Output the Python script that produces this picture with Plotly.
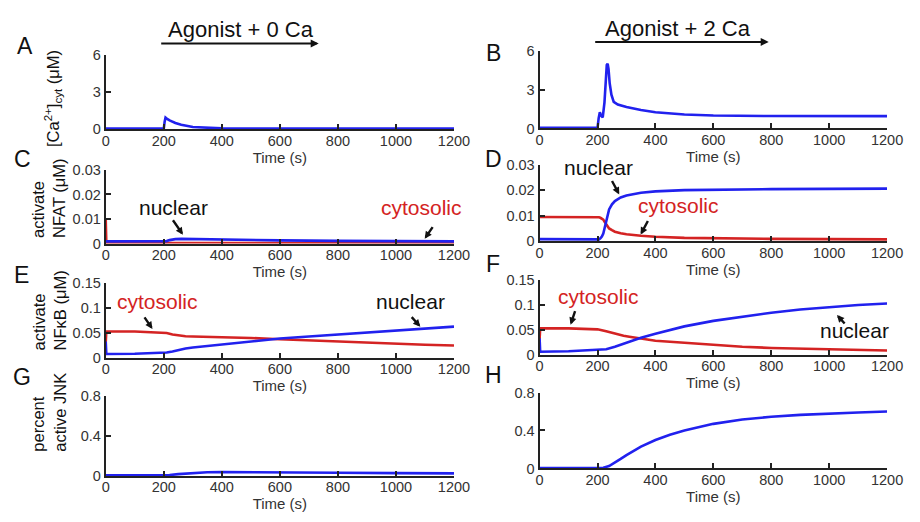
import plotly.graph_objects as go

# ---------------- data ----------------
tA = [0, 200, 203, 206, 210, 220, 240, 260, 300, 350, 400, 500, 1200]
caA = [0.05, 0.05, 0.6, 0.93, 0.85, 0.7, 0.5, 0.35, 0.18, 0.09, 0.06, 0.05, 0.05]

tB = [0, 200, 204, 208, 212, 218, 224, 228, 232, 235, 238, 242, 248, 256, 270, 300, 350, 400, 500, 600, 800, 1200]
caB = [0.05, 0.05, 0.8, 1.25, 1.0, 0.85, 2.0, 3.8, 4.9, 5.0, 4.6, 3.5, 2.6, 2.05, 1.85, 1.65, 1.42, 1.25, 1.08, 1.0, 0.96, 0.95]

tC = [0, 2, 100, 200, 210, 220, 230, 240, 260, 300, 400, 600, 800, 1000, 1200]
nucC = [0.0009, 0.0009, 0.0009, 0.0009, 0.001, 0.0014, 0.0017, 0.0018, 0.0019, 0.0018, 0.0016, 0.0013, 0.0011, 0.001, 0.0009]
cytC = [0.0097, 0.0002, 0.0002, 0.0002, 0.0002, 0.0002, 0.0002, 0.0002, 0.0002, 0.0002, 0.0002, 0.0002, 0.0002, 0.0002, 0.0002]

tD = [0, 100, 200, 205, 210, 215, 220, 225, 230, 235, 240, 250, 260, 280, 300, 350, 400, 500, 600, 800, 1000, 1200]
nucD = [0.0008, 0.0007, 0.0006, 0.0007, 0.0011, 0.0018, 0.003, 0.0055, 0.008, 0.0105, 0.0125, 0.0145, 0.0158, 0.0172, 0.018, 0.0191, 0.0196, 0.0201, 0.0203, 0.0205, 0.0206, 0.0207]
cytD = [0.0095, 0.0095, 0.0095, 0.0094, 0.0092, 0.0089, 0.0085, 0.0075, 0.0065, 0.0057, 0.005, 0.0043, 0.0037, 0.0031, 0.0027, 0.0021, 0.0017, 0.0013, 0.0011, 0.0009, 0.0008, 0.0007]

tE = [0, 2, 100, 200, 210, 230, 250, 275, 300, 350, 400, 500, 600, 700, 800, 900, 1000, 1100, 1200]
cytE = [0.032, 0.053, 0.053, 0.051, 0.05, 0.047, 0.045, 0.0435, 0.043, 0.0425, 0.042, 0.04, 0.0375, 0.035, 0.0325, 0.0305, 0.0285, 0.0265, 0.025]
nucE = [0.033, 0.008, 0.0085, 0.01, 0.011, 0.013, 0.016, 0.019, 0.021, 0.024, 0.027, 0.033, 0.039, 0.043, 0.047, 0.051, 0.055, 0.059, 0.063]

tF = [0, 2, 100, 200, 230, 260, 290, 310, 350, 400, 500, 600, 700, 800, 900, 1000, 1100, 1200]
nucF = [0.033, 0.006, 0.007, 0.009, 0.011, 0.016, 0.022, 0.026, 0.034, 0.042, 0.057, 0.068, 0.077, 0.0845, 0.091, 0.096, 0.1, 0.103]
cytF = [0.032, 0.053, 0.053, 0.051, 0.047, 0.042, 0.038, 0.036, 0.032, 0.028, 0.024, 0.0195, 0.016, 0.0136, 0.012, 0.0105, 0.0093, 0.0085]

tG = [0, 200, 220, 250, 300, 350, 400, 500, 600, 800, 1000, 1200]
jnkG = [0.005, 0.005, 0.008, 0.018, 0.03, 0.036, 0.038, 0.038, 0.036, 0.032, 0.028, 0.025]

tH = [0, 200, 220, 240, 260, 280, 300, 350, 400, 450, 500, 600, 700, 800, 900, 1000, 1100, 1200]
jnkH = [0.005, 0.005, 0.008, 0.025, 0.06, 0.1, 0.14, 0.23, 0.3, 0.355, 0.4, 0.47, 0.515, 0.545, 0.565, 0.58, 0.59, 0.6]

x_ticks = [0, 200, 400, 600, 800, 1000, 1200]
ca_ticks = [0, 3, 6]
nfat_ticks = [0, 0.01, 0.02, 0.03]
nfat_text = ["0", "0.01", "0.02", "0.03"]
nfkb_ticks = [0, 0.05, 0.1, 0.15]
nfkb_text = ["0", "0.05", "0.1", "0.15"]
jnk_ticks = [0, 0.4, 0.8]
jnk_text = ["0", "0.4", "0.8"]

# ---------------- styling ----------------
W, H = 920, 522
BLUE = "#2121ee"
RED = "#d42323"
INK = "#222222"
FONT = "Liberation Sans, Arial, sans-serif"


def px(x):
    return x / W


def py(y):
    return 1 - y / H


fig = go.Figure()


def line(x, y, color, k):
    fig.add_trace(go.Scatter(x=x, y=y, mode="lines", line=dict(color=color, width=2.6),
                             xaxis="x" if k == 1 else f"x{k}", yaxis="y" if k == 1 else f"y{k}",
                             showlegend=False, hoverinfo="skip"))


line(tA, caA, BLUE, 1)
line(tB, caB, BLUE, 2)
line(tC, cytC, RED, 3)
line(tC, nucC, BLUE, 3)
line(tD, cytD, RED, 4)
line(tD, nucD, BLUE, 4)
line(tE, cytE, RED, 5)
line(tE, nucE, BLUE, 5)
line(tF, cytF, RED, 6)
line(tF, nucF, BLUE, 6)
line(tG, jnkG, BLUE, 7)
line(tH, jnkH, BLUE, 8)

xL = [104, 460]
xR = [547.5, 902.7]
rows = {
    1: (xL, [48, 125], [0, 6], ca_ticks, [str(v) for v in ca_ticks]),
    2: (xR, [44, 124.3], [0, 6], ca_ticks, [str(v) for v in ca_ticks]),
    3: (xL, [167, 243], [0, 0.03], nfat_ticks, nfat_text),
    4: (xR, [162, 240.5], [0, 0.03], nfat_ticks, nfat_text),
    5: (xL, [284, 361], [0, 0.15], nfkb_ticks, nfkb_text),
    6: (xR, [280.7, 357.7], [0, 0.15], nfkb_ticks, nfkb_text),
    7: (xL, [400, 482.7], [0, 0.8], jnk_ticks, jnk_text),
    8: (xR, [396.7, 475], [0, 0.8], jnk_ticks, jnk_text),
}

tickfont = dict(family=FONT, size=14.5, color="#333")
titlefont = dict(family=FONT, size=15, color="#333")
layout_axes = {}
for k, (xd, yd, yr, yt, ytt) in rows.items():
    xn = "xaxis" if k == 1 else f"xaxis{k}"
    yn = "yaxis" if k == 1 else f"yaxis{k}"
    xa = "x" if k == 1 else f"x{k}"
    ya = "y" if k == 1 else f"y{k}"
    layout_axes[xn] = dict(domain=[px(xd[0]), px(xd[1])], anchor=ya, range=[0, 1200],
                           tickvals=x_ticks, ticks="inside", ticklen=5, tickwidth=2, tickcolor=INK,
                           showline=True, linecolor=INK, linewidth=2, showgrid=False, zeroline=False,
                           tickfont=tickfont, ticklabelstandoff=-3,
                           title=dict(text="Time (s)", font=titlefont, standoff=0))
    layout_axes[yn] = dict(domain=[py(yd[1]), py(yd[0])], anchor=xa, range=yr,
                           tickvals=yt, ticktext=ytt, ticks="inside", ticklen=5, tickwidth=2,
                           tickcolor=INK, showline=True, linecolor=INK, linewidth=2,
                           showgrid=False, zeroline=False, tickfont=tickfont)

ann = []
# panel letters
for lab, (x, y) in {"A": (21, 39.5), "B": (500, 46.7), "C": (19, 156), "D": (500, 155.5),
                    "E": (18, 275), "F": (500, 264), "G": (18, 381), "H": (500, 379)}.items():
    ann.append(dict(text=lab, x=px(x), y=py(y), xref="paper", yref="paper", showarrow=False,
                    xanchor="center", yanchor="middle", font=dict(family=FONT, size=23, color="#111")))

# headers with arrows
for txt, (cx, cy), (x0, x1, ya) in [("Agonist + 0 Ca", (242.5, 21.7), (162.7, 321.7, 36.7)),
                                    ("Agonist + 2 Ca", (689, 20.7), (606.7, 781.7, 35))]:
    ann.append(dict(text=txt, x=px(cx), y=py(cy), xref="paper", yref="paper", showarrow=False,
                    xanchor="center", yanchor="middle", font=dict(family=FONT, size=22, color="#111")))
    ann.append(dict(text="", x=px(x1), y=py(ya), xref="paper", yref="paper", showarrow=True,
                    ax=-(x1 - x0), ay=0, arrowhead=2, arrowsize=0.8, arrowwidth=2, arrowcolor="#111",
                    standoff=0))

# y-axis titles
ytitle_font = dict(family=FONT, size=16.5, color="#111")
for txt, (cx, cy) in [("[Ca<sup>2+</sup>]<sub>cyt</sub> (μM)", (50, 93)),
                      ("activate<br>NFAT (μM)", (46, 197)),
                      ("activate<br>NFκB (μM)", (46, 312)),
                      ("percent<br>active JNK", (46, 417.5))]:
    ann.append(dict(text=txt, x=px(cx), y=py(cy), xref="paper", yref="paper", showarrow=False,
                    textangle=-90, align="left", xanchor="center", yanchor="middle", font=ytitle_font))

# in-panel labels with arrows (data coords)
lab_font_k = dict(family=FONT, size=21, color="#111")
lab_font_r = dict(family=FONT, size=21, color=RED)
labels = [
    # (axis k, text, font, text x, text y, tip x, tip y, ax, ay)
    (3, "nuclear", lab_font_k, 233, 0.0146, 266, 0.0036, -11, -16),
    (3, "cytosolic", lab_font_r, 1089, 0.0146, 1099, 0.002, 9, -13),
    (4, "nuclear", lab_font_k, 203, 0.0291, 275, 0.0184, -8, -15),
    (4, "cytosolic", lab_font_r, 481, 0.0141, 349, 0.0026, 8, -15),
    (5, "cytosolic", lab_font_r, 178, 0.1129, 161, 0.0583, -9, -13),
    (5, "nuclear", lab_font_k, 1051, 0.1129, 1084, 0.0629, -10, -11),
    (6, "cytosolic", lab_font_r, 202, 0.1175, 107, 0.0604, 5, -15),
    (6, "nuclear", lab_font_k, 1088, 0.0493, 1027, 0.0798, 9, 10),
]
for k, txt, f, tx, ty, ax_, ay_, dx, dy in labels:
    xa = f"x{k}"
    ya = f"y{k}"
    ann.append(dict(text=txt, x=tx, y=ty, xref=xa, yref=ya, showarrow=False,
                    xanchor="center", yanchor="middle", font=f))
    ann.append(dict(text="", x=ax_, y=ay_, xref=xa, yref=ya, showarrow=True, ax=dx, ay=dy,
                    arrowhead=2, arrowsize=0.6, arrowwidth=2.4, arrowcolor="#111", standoff=0))

fig.update_layout(width=W, height=H, margin=dict(l=0, r=0, t=0, b=0),
                  paper_bgcolor="white", plot_bgcolor="white", showlegend=False,
                  font=dict(family=FONT), annotations=ann, **layout_axes)

fig.write_html("out.html")
